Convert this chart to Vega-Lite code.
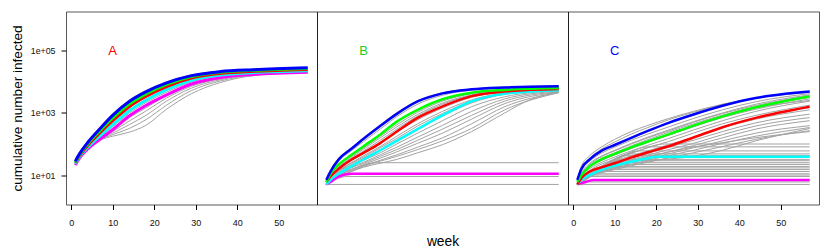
{
"$schema":"https://vega.github.io/schema/vega-lite/v6.json",
"padding":{"left":9,"top":10.5,"right":5,"bottom":0},
"spacing":0,
"bounds":"flush",
"config":{"view":{"stroke":"#000","strokeOpacity":0.65,"strokeWidth":1},"font":"Liberation Sans","axis":{"grid":false,"domain":false,"tickColor":"#000","labelColor":"#111","titleColor":"#000","labelFont":"Liberation Sans","titleFont":"Liberation Sans","titleFontWeight":"normal"}},
"datasets":{
"lab":[{"p":"A","t":"A","w":10,"v":100000},{"p":"B","t":"B","w":10,"v":100000},{"p":"C","t":"C","w":10,"v":100000}],
"d":[
{"p":"A","s":"ga1","w":1,"v":21},{"p":"A","s":"ga1","w":2,"v":35},{"p":"A","s":"ga1","w":4,"v":69},{"p":"A","s":"ga1","w":7,"v":132},{"p":"A","s":"ga1","w":10,"v":178},{"p":"A","s":"ga1","w":14,"v":240},{"p":"A","s":"ga1","w":18,"v":398},{"p":"A","s":"ga1","w":23,"v":1318},{"p":"A","s":"ga1","w":29,"v":4169},{"p":"A","s":"ga1","w":36,"v":9550},{"p":"A","s":"ga1","w":44,"v":15849},{"p":"A","s":"ga1","w":57,"v":19953},
{"p":"A","s":"ga2","w":1,"v":21},{"p":"A","s":"ga2","w":2,"v":35},{"p":"A","s":"ga2","w":4,"v":69},{"p":"A","s":"ga2","w":7,"v":138},{"p":"A","s":"ga2","w":10,"v":200},{"p":"A","s":"ga2","w":14,"v":316},{"p":"A","s":"ga2","w":18,"v":603},{"p":"A","s":"ga2","w":23,"v":1778},{"p":"A","s":"ga2","w":29,"v":5248},{"p":"A","s":"ga2","w":36,"v":10715},{"p":"A","s":"ga2","w":44,"v":16596},{"p":"A","s":"ga2","w":57,"v":20417},
{"p":"A","s":"ga3","w":1,"v":21},{"p":"A","s":"ga3","w":2,"v":36},{"p":"A","s":"ga3","w":4,"v":70},{"p":"A","s":"ga3","w":7,"v":141},{"p":"A","s":"ga3","w":10,"v":224},{"p":"A","s":"ga3","w":14,"v":417},{"p":"A","s":"ga3","w":18,"v":832},{"p":"A","s":"ga3","w":23,"v":2399},{"p":"A","s":"ga3","w":29,"v":6310},{"p":"A","s":"ga3","w":36,"v":11749},{"p":"A","s":"ga3","w":44,"v":16982},{"p":"A","s":"ga3","w":57,"v":20417},
{"p":"A","s":"ga4","w":1,"v":22},{"p":"A","s":"ga4","w":2,"v":36},{"p":"A","s":"ga4","w":4,"v":71},{"p":"A","s":"ga4","w":7,"v":148},{"p":"A","s":"ga4","w":10,"v":251},{"p":"A","s":"ga4","w":14,"v":550},{"p":"A","s":"ga4","w":18,"v":1148},{"p":"A","s":"ga4","w":23,"v":3020},{"p":"A","s":"ga4","w":29,"v":7244},{"p":"A","s":"ga4","w":36,"v":12589},{"p":"A","s":"ga4","w":44,"v":17378},{"p":"A","s":"ga4","w":57,"v":20893},
{"p":"A","s":"ga5","w":1,"v":22},{"p":"A","s":"ga5","w":2,"v":37},{"p":"A","s":"ga5","w":4,"v":72},{"p":"A","s":"ga5","w":7,"v":155},{"p":"A","s":"ga5","w":10,"v":288},{"p":"A","s":"ga5","w":14,"v":708},{"p":"A","s":"ga5","w":18,"v":1445},{"p":"A","s":"ga5","w":23,"v":3631},{"p":"A","s":"ga5","w":29,"v":7943},{"p":"A","s":"ga5","w":36,"v":13183},{"p":"A","s":"ga5","w":44,"v":17783},{"p":"A","s":"ga5","w":57,"v":20893},
{"p":"A","s":"ga6","w":1,"v":30},{"p":"A","s":"ga6","w":2,"v":51},{"p":"A","s":"ga6","w":4,"v":123},{"p":"A","s":"ga6","w":7,"v":355},{"p":"A","s":"ga6","w":10,"v":933},{"p":"A","s":"ga6","w":14,"v":2570},{"p":"A","s":"ga6","w":18,"v":5248},{"p":"A","s":"ga6","w":23,"v":10000},{"p":"A","s":"ga6","w":29,"v":16596},{"p":"A","s":"ga6","w":36,"v":22387},{"p":"A","s":"ga6","w":44,"v":25704},{"p":"A","s":"ga6","w":57,"v":28840},
{"p":"A","s":"ga7","w":1,"v":26},{"p":"A","s":"ga7","w":2,"v":44},{"p":"A","s":"ga7","w":4,"v":98},{"p":"A","s":"ga7","w":7,"v":257},{"p":"A","s":"ga7","w":10,"v":631},{"p":"A","s":"ga7","w":14,"v":1778},{"p":"A","s":"ga7","w":18,"v":3715},{"p":"A","s":"ga7","w":23,"v":7762},{"p":"A","s":"ga7","w":29,"v":14125},{"p":"A","s":"ga7","w":36,"v":19498},{"p":"A","s":"ga7","w":44,"v":22909},{"p":"A","s":"ga7","w":57,"v":26303},
{"p":"A","s":"ga8","w":1,"v":22},{"p":"A","s":"ga8","w":2,"v":37},{"p":"A","s":"ga8","w":4,"v":74},{"p":"A","s":"ga8","w":7,"v":166},{"p":"A","s":"ga8","w":10,"v":355},{"p":"A","s":"ga8","w":14,"v":977},{"p":"A","s":"ga8","w":18,"v":2138},{"p":"A","s":"ga8","w":23,"v":4677},{"p":"A","s":"ga8","w":29,"v":10000},{"p":"A","s":"ga8","w":36,"v":15488},{"p":"A","s":"ga8","w":44,"v":19055},{"p":"A","s":"ga8","w":57,"v":21878},
{"p":"A","s":"magenta","w":1,"v":21},{"p":"A","s":"magenta","w":2,"v":35},{"p":"A","s":"magenta","w":4,"v":69},{"p":"A","s":"magenta","w":7,"v":145},{"p":"A","s":"magenta","w":10,"v":288},{"p":"A","s":"magenta","w":14,"v":794},{"p":"A","s":"magenta","w":18,"v":1738},{"p":"A","s":"magenta","w":23,"v":3802},{"p":"A","s":"magenta","w":29,"v":8511},{"p":"A","s":"magenta","w":36,"v":13804},{"p":"A","s":"magenta","w":44,"v":17378},{"p":"A","s":"magenta","w":57,"v":20417},
{"p":"A","s":"cyan","w":1,"v":23},{"p":"A","s":"cyan","w":2,"v":39},{"p":"A","s":"cyan","w":4,"v":79},{"p":"A","s":"cyan","w":7,"v":186},{"p":"A","s":"cyan","w":10,"v":417},{"p":"A","s":"cyan","w":14,"v":1175},{"p":"A","s":"cyan","w":18,"v":2570},{"p":"A","s":"cyan","w":23,"v":5623},{"p":"A","s":"cyan","w":29,"v":11220},{"p":"A","s":"cyan","w":36,"v":16596},{"p":"A","s":"cyan","w":44,"v":19953},{"p":"A","s":"cyan","w":57,"v":22909},
{"p":"A","s":"red","w":1,"v":25},{"p":"A","s":"red","w":2,"v":42},{"p":"A","s":"red","w":4,"v":91},{"p":"A","s":"red","w":7,"v":234},{"p":"A","s":"red","w":10,"v":562},{"p":"A","s":"red","w":14,"v":1585},{"p":"A","s":"red","w":18,"v":3388},{"p":"A","s":"red","w":23,"v":7079},{"p":"A","s":"red","w":29,"v":13183},{"p":"A","s":"red","w":36,"v":18621},{"p":"A","s":"red","w":44,"v":21878},{"p":"A","s":"red","w":57,"v":25119},
{"p":"A","s":"green","w":1,"v":26},{"p":"A","s":"green","w":2,"v":45},{"p":"A","s":"green","w":4,"v":102},{"p":"A","s":"green","w":7,"v":275},{"p":"A","s":"green","w":10,"v":692},{"p":"A","s":"green","w":14,"v":1950},{"p":"A","s":"green","w":18,"v":4074},{"p":"A","s":"green","w":23,"v":8318},{"p":"A","s":"green","w":29,"v":14791},{"p":"A","s":"green","w":36,"v":20417},{"p":"A","s":"green","w":44,"v":23442},{"p":"A","s":"green","w":57,"v":26915},
{"p":"A","s":"blue","w":1,"v":28},{"p":"A","s":"blue","w":2,"v":48},{"p":"A","s":"blue","w":4,"v":112},{"p":"A","s":"blue","w":7,"v":316},{"p":"A","s":"blue","w":10,"v":832},{"p":"A","s":"blue","w":14,"v":2344},{"p":"A","s":"blue","w":18,"v":4786},{"p":"A","s":"blue","w":23,"v":9333},{"p":"A","s":"blue","w":29,"v":15849},{"p":"A","s":"blue","w":36,"v":21380},{"p":"A","s":"blue","w":44,"v":24547},{"p":"A","s":"blue","w":57,"v":28184},

{"p":"B","s":"bf1","w":1,"v":5},{"p":"B","s":"bf1","w":57,"v":5},
{"p":"B","s":"bf2","w":1,"v":5},{"p":"B","s":"bf2","w":3,"v":7},{"p":"B","s":"bf2","w":6,"v":9},{"p":"B","s":"bf2","w":57,"v":9},
{"p":"B","s":"bf3","w":1,"v":5},{"p":"B","s":"bf3","w":3,"v":8},{"p":"B","s":"bf3","w":6,"v":11},{"p":"B","s":"bf3","w":57,"v":11},
{"p":"B","s":"bf4","w":1,"v":5},{"p":"B","s":"bf4","w":4,"v":10},{"p":"B","s":"bf4","w":8,"v":17},{"p":"B","s":"bf4","w":13,"v":25},{"p":"B","s":"bf4","w":57,"v":25},
{"p":"B","s":"b1","w":1,"v":7},{"p":"B","s":"b1","w":2,"v":14},{"p":"B","s":"b1","w":4,"v":35},{"p":"B","s":"b1","w":7,"v":76},{"p":"B","s":"b1","w":10,"v":162},{"p":"B","s":"b1","w":14,"v":417},{"p":"B","s":"b1","w":18,"v":1023},{"p":"B","s":"b1","w":23,"v":2512},{"p":"B","s":"b1","w":29,"v":4467},{"p":"B","s":"b1","w":36,"v":5888},{"p":"B","s":"b1","w":44,"v":6761},{"p":"B","s":"b1","w":57,"v":7413},
{"p":"B","s":"b2","w":1,"v":6},{"p":"B","s":"b2","w":2,"v":12},{"p":"B","s":"b2","w":4,"v":28},{"p":"B","s":"b2","w":7,"v":60},{"p":"B","s":"b2","w":10,"v":120},{"p":"B","s":"b2","w":14,"v":302},{"p":"B","s":"b2","w":18,"v":759},{"p":"B","s":"b2","w":23,"v":1905},{"p":"B","s":"b2","w":29,"v":3715},{"p":"B","s":"b2","w":36,"v":5370},{"p":"B","s":"b2","w":44,"v":6310},{"p":"B","s":"b2","w":57,"v":7079},
{"p":"B","s":"b3","w":1,"v":6},{"p":"B","s":"b3","w":2,"v":10},{"p":"B","s":"b3","w":4,"v":21},{"p":"B","s":"b3","w":7,"v":40},{"p":"B","s":"b3","w":10,"v":76},{"p":"B","s":"b3","w":14,"v":178},{"p":"B","s":"b3","w":18,"v":417},{"p":"B","s":"b3","w":23,"v":1047},{"p":"B","s":"b3","w":29,"v":2399},{"p":"B","s":"b3","w":36,"v":4169},{"p":"B","s":"b3","w":44,"v":5495},{"p":"B","s":"b3","w":57,"v":6457},
{"p":"B","s":"b4","w":1,"v":5},{"p":"B","s":"b4","w":2,"v":9},{"p":"B","s":"b4","w":4,"v":18},{"p":"B","s":"b4","w":7,"v":33},{"p":"B","s":"b4","w":10,"v":60},{"p":"B","s":"b4","w":14,"v":132},{"p":"B","s":"b4","w":18,"v":302},{"p":"B","s":"b4","w":23,"v":794},{"p":"B","s":"b4","w":29,"v":1905},{"p":"B","s":"b4","w":36,"v":3631},{"p":"B","s":"b4","w":44,"v":5129},{"p":"B","s":"b4","w":57,"v":6310},
{"p":"B","s":"b5","w":1,"v":5},{"p":"B","s":"b5","w":2,"v":8},{"p":"B","s":"b5","w":4,"v":14},{"p":"B","s":"b5","w":7,"v":25},{"p":"B","s":"b5","w":10,"v":42},{"p":"B","s":"b5","w":14,"v":83},{"p":"B","s":"b5","w":18,"v":178},{"p":"B","s":"b5","w":23,"v":447},{"p":"B","s":"b5","w":29,"v":1122},{"p":"B","s":"b5","w":36,"v":2630},{"p":"B","s":"b5","w":44,"v":4365},{"p":"B","s":"b5","w":57,"v":5754},
{"p":"B","s":"b6","w":1,"v":5},{"p":"B","s":"b6","w":2,"v":8},{"p":"B","s":"b6","w":4,"v":13},{"p":"B","s":"b6","w":7,"v":22},{"p":"B","s":"b6","w":10,"v":35},{"p":"B","s":"b6","w":14,"v":66},{"p":"B","s":"b6","w":18,"v":132},{"p":"B","s":"b6","w":23,"v":316},{"p":"B","s":"b6","w":29,"v":794},{"p":"B","s":"b6","w":36,"v":2089},{"p":"B","s":"b6","w":44,"v":3981},{"p":"B","s":"b6","w":57,"v":5495},
{"p":"B","s":"b7","w":1,"v":5},{"p":"B","s":"b7","w":2,"v":7},{"p":"B","s":"b7","w":4,"v":12},{"p":"B","s":"b7","w":7,"v":20},{"p":"B","s":"b7","w":10,"v":30},{"p":"B","s":"b7","w":14,"v":52},{"p":"B","s":"b7","w":18,"v":100},{"p":"B","s":"b7","w":23,"v":224},{"p":"B","s":"b7","w":29,"v":562},{"p":"B","s":"b7","w":36,"v":1585},{"p":"B","s":"b7","w":44,"v":3311},{"p":"B","s":"b7","w":57,"v":5248},
{"p":"B","s":"b8","w":1,"v":5},{"p":"B","s":"b8","w":2,"v":7},{"p":"B","s":"b8","w":4,"v":11},{"p":"B","s":"b8","w":7,"v":18},{"p":"B","s":"b8","w":10,"v":26},{"p":"B","s":"b8","w":14,"v":45},{"p":"B","s":"b8","w":18,"v":79},{"p":"B","s":"b8","w":23,"v":166},{"p":"B","s":"b8","w":29,"v":398},{"p":"B","s":"b8","w":36,"v":1122},{"p":"B","s":"b8","w":44,"v":2818},{"p":"B","s":"b8","w":57,"v":5012},
{"p":"B","s":"b9","w":1,"v":5},{"p":"B","s":"b9","w":2,"v":7},{"p":"B","s":"b9","w":4,"v":10},{"p":"B","s":"b9","w":7,"v":17},{"p":"B","s":"b9","w":10,"v":24},{"p":"B","s":"b9","w":14,"v":40},{"p":"B","s":"b9","w":18,"v":66},{"p":"B","s":"b9","w":23,"v":132},{"p":"B","s":"b9","w":29,"v":302},{"p":"B","s":"b9","w":36,"v":832},{"p":"B","s":"b9","w":44,"v":2399},{"p":"B","s":"b9","w":57,"v":4786},
{"p":"B","s":"b10","w":1,"v":5},{"p":"B","s":"b10","w":2,"v":7},{"p":"B","s":"b10","w":4,"v":10},{"p":"B","s":"b10","w":7,"v":15},{"p":"B","s":"b10","w":10,"v":22},{"p":"B","s":"b10","w":14,"v":35},{"p":"B","s":"b10","w":18,"v":56},{"p":"B","s":"b10","w":23,"v":105},{"p":"B","s":"b10","w":29,"v":224},{"p":"B","s":"b10","w":36,"v":631},{"p":"B","s":"b10","w":44,"v":1995},{"p":"B","s":"b10","w":57,"v":4677},
{"p":"B","s":"b11","w":1,"v":5},{"p":"B","s":"b11","w":2,"v":6},{"p":"B","s":"b11","w":4,"v":10},{"p":"B","s":"b11","w":7,"v":14},{"p":"B","s":"b11","w":10,"v":20},{"p":"B","s":"b11","w":14,"v":30},{"p":"B","s":"b11","w":18,"v":45},{"p":"B","s":"b11","w":23,"v":79},{"p":"B","s":"b11","w":29,"v":158},{"p":"B","s":"b11","w":36,"v":447},{"p":"B","s":"b11","w":44,"v":1585},{"p":"B","s":"b11","w":57,"v":4571},
{"p":"B","s":"b12","w":1,"v":5},{"p":"B","s":"b12","w":2,"v":6},{"p":"B","s":"b12","w":4,"v":9},{"p":"B","s":"b12","w":7,"v":13},{"p":"B","s":"b12","w":10,"v":19},{"p":"B","s":"b12","w":14,"v":28},{"p":"B","s":"b12","w":18,"v":40},{"p":"B","s":"b12","w":23,"v":66},{"p":"B","s":"b12","w":29,"v":126},{"p":"B","s":"b12","w":36,"v":316},{"p":"B","s":"b12","w":44,"v":1259},{"p":"B","s":"b12","w":57,"v":4467},
{"p":"B","s":"b13","w":1,"v":5},{"p":"B","s":"b13","w":2,"v":6},{"p":"B","s":"b13","w":4,"v":9},{"p":"B","s":"b13","w":7,"v":13},{"p":"B","s":"b13","w":10,"v":18},{"p":"B","s":"b13","w":14,"v":24},{"p":"B","s":"b13","w":18,"v":32},{"p":"B","s":"b13","w":23,"v":52},{"p":"B","s":"b13","w":29,"v":95},{"p":"B","s":"b13","w":36,"v":251},{"p":"B","s":"b13","w":44,"v":1000},{"p":"B","s":"b13","w":50,"v":2630},{"p":"B","s":"b13","w":57,"v":4571},
{"p":"B","s":"b14","w":1,"v":5},{"p":"B","s":"b14","w":2,"v":8},{"p":"B","s":"b14","w":4,"v":16},{"p":"B","s":"b14","w":7,"v":29},{"p":"B","s":"b14","w":10,"v":50},{"p":"B","s":"b14","w":14,"v":105},{"p":"B","s":"b14","w":18,"v":240},{"p":"B","s":"b14","w":23,"v":603},{"p":"B","s":"b14","w":29,"v":1445},{"p":"B","s":"b14","w":36,"v":3162},{"p":"B","s":"b14","w":44,"v":4786},{"p":"B","s":"b14","w":57,"v":6026},
{"p":"B","s":"b15","w":1,"v":5},{"p":"B","s":"b15","w":2,"v":10},{"p":"B","s":"b15","w":4,"v":19},{"p":"B","s":"b15","w":7,"v":36},{"p":"B","s":"b15","w":10,"v":69},{"p":"B","s":"b15","w":14,"v":158},{"p":"B","s":"b15","w":18,"v":355},{"p":"B","s":"b15","w":23,"v":891},{"p":"B","s":"b15","w":29,"v":2089},{"p":"B","s":"b15","w":36,"v":3802},{"p":"B","s":"b15","w":44,"v":5248},{"p":"B","s":"b15","w":57,"v":6310},
{"p":"B","s":"b16","w":1,"v":5},{"p":"B","s":"b16","w":2,"v":7},{"p":"B","s":"b16","w":4,"v":13},{"p":"B","s":"b16","w":7,"v":24},{"p":"B","s":"b16","w":10,"v":38},{"p":"B","s":"b16","w":14,"v":76},{"p":"B","s":"b16","w":18,"v":151},{"p":"B","s":"b16","w":23,"v":380},{"p":"B","s":"b16","w":29,"v":955},{"p":"B","s":"b16","w":36,"v":2399},{"p":"B","s":"b16","w":44,"v":4169},{"p":"B","s":"b16","w":57,"v":5623},
{"p":"B","s":"magenta","w":1,"v":5},{"p":"B","s":"magenta","w":2,"v":6},{"p":"B","s":"magenta","w":4,"v":9},{"p":"B","s":"magenta","w":7,"v":11},{"p":"B","s":"magenta","w":57,"v":11},
{"p":"B","s":"cyan","w":1,"v":5},{"p":"B","s":"cyan","w":2,"v":7},{"p":"B","s":"cyan","w":4,"v":11},{"p":"B","s":"cyan","w":7,"v":19},{"p":"B","s":"cyan","w":10,"v":32},{"p":"B","s":"cyan","w":14,"v":63},{"p":"B","s":"cyan","w":18,"v":126},{"p":"B","s":"cyan","w":23,"v":302},{"p":"B","s":"cyan","w":29,"v":832},{"p":"B","s":"cyan","w":36,"v":2344},{"p":"B","s":"cyan","w":44,"v":4169},{"p":"B","s":"cyan","w":57,"v":5370},
{"p":"B","s":"red","w":1,"v":6},{"p":"B","s":"red","w":2,"v":9},{"p":"B","s":"red","w":4,"v":16},{"p":"B","s":"red","w":7,"v":31},{"p":"B","s":"red","w":10,"v":52},{"p":"B","s":"red","w":14,"v":107},{"p":"B","s":"red","w":18,"v":251},{"p":"B","s":"red","w":23,"v":692},{"p":"B","s":"red","w":29,"v":1622},{"p":"B","s":"red","w":36,"v":3467},{"p":"B","s":"red","w":44,"v":4898},{"p":"B","s":"red","w":57,"v":5888},
{"p":"B","s":"green","w":1,"v":6},{"p":"B","s":"green","w":2,"v":11},{"p":"B","s":"green","w":4,"v":22},{"p":"B","s":"green","w":7,"v":44},{"p":"B","s":"green","w":10,"v":85},{"p":"B","s":"green","w":14,"v":204},{"p":"B","s":"green","w":18,"v":525},{"p":"B","s":"green","w":23,"v":1259},{"p":"B","s":"green","w":29,"v":2754},{"p":"B","s":"green","w":36,"v":4467},{"p":"B","s":"green","w":44,"v":5495},{"p":"B","s":"green","w":57,"v":6310},
{"p":"B","s":"blue","w":1,"v":7},{"p":"B","s":"blue","w":2,"v":13},{"p":"B","s":"blue","w":4,"v":32},{"p":"B","s":"blue","w":7,"v":69},{"p":"B","s":"blue","w":10,"v":148},{"p":"B","s":"blue","w":14,"v":380},{"p":"B","s":"blue","w":18,"v":933},{"p":"B","s":"blue","w":23,"v":2344},{"p":"B","s":"blue","w":29,"v":4266},{"p":"B","s":"blue","w":36,"v":5754},{"p":"B","s":"blue","w":44,"v":6607},{"p":"B","s":"blue","w":57,"v":7244},

{"p":"C","s":"cf1","w":1,"v":5},{"p":"C","s":"cf1","w":4,"v":11},{"p":"C","s":"cf1","w":10,"v":32},{"p":"C","s":"cf1","w":16,"v":63},{"p":"C","s":"cf1","w":22,"v":100},{"p":"C","s":"cf1","w":57,"v":100},
{"p":"C","s":"cf2","w":1,"v":5},{"p":"C","s":"cf2","w":4,"v":10},{"p":"C","s":"cf2","w":10,"v":28},{"p":"C","s":"cf2","w":18,"v":81},{"p":"C","s":"cf2","w":57,"v":81},
{"p":"C","s":"cf3","w":1,"v":5},{"p":"C","s":"cf3","w":4,"v":10},{"p":"C","s":"cf3","w":9,"v":26},{"p":"C","s":"cf3","w":16,"v":60},{"p":"C","s":"cf3","w":57,"v":60},
{"p":"C","s":"cf4","w":1,"v":5},{"p":"C","s":"cf4","w":4,"v":10},{"p":"C","s":"cf4","w":8,"v":24},{"p":"C","s":"cf4","w":14,"v":48},{"p":"C","s":"cf4","w":57,"v":48},
{"p":"C","s":"cf5","w":1,"v":5},{"p":"C","s":"cf5","w":4,"v":9},{"p":"C","s":"cf5","w":8,"v":19},{"p":"C","s":"cf5","w":12,"v":32},{"p":"C","s":"cf5","w":57,"v":32},
{"p":"C","s":"cf6","w":1,"v":5},{"p":"C","s":"cf6","w":4,"v":9},{"p":"C","s":"cf6","w":7,"v":17},{"p":"C","s":"cf6","w":11,"v":29},{"p":"C","s":"cf6","w":57,"v":29},
{"p":"C","s":"cf7","w":1,"v":5},{"p":"C","s":"cf7","w":3,"v":8},{"p":"C","s":"cf7","w":6,"v":15},{"p":"C","s":"cf7","w":10,"v":25},{"p":"C","s":"cf7","w":57,"v":25},
{"p":"C","s":"cf8","w":1,"v":5},{"p":"C","s":"cf8","w":3,"v":8},{"p":"C","s":"cf8","w":6,"v":14},{"p":"C","s":"cf8","w":9,"v":22},{"p":"C","s":"cf8","w":57,"v":22},
{"p":"C","s":"cf9","w":1,"v":5},{"p":"C","s":"cf9","w":3,"v":8},{"p":"C","s":"cf9","w":5,"v":12},{"p":"C","s":"cf9","w":8,"v":19},{"p":"C","s":"cf9","w":57,"v":19},
{"p":"C","s":"cf10","w":1,"v":5},{"p":"C","s":"cf10","w":3,"v":7},{"p":"C","s":"cf10","w":5,"v":11},{"p":"C","s":"cf10","w":7,"v":15},{"p":"C","s":"cf10","w":57,"v":15},
{"p":"C","s":"cf11","w":1,"v":5},{"p":"C","s":"cf11","w":3,"v":8},{"p":"C","s":"cf11","w":6,"v":13},{"p":"C","s":"cf11","w":57,"v":13},
{"p":"C","s":"cf12","w":1,"v":5},{"p":"C","s":"cf12","w":3,"v":7},{"p":"C","s":"cf12","w":6,"v":11},{"p":"C","s":"cf12","w":57,"v":11},
{"p":"C","s":"cf13","w":1,"v":5},{"p":"C","s":"cf13","w":3,"v":7},{"p":"C","s":"cf13","w":5,"v":10},{"p":"C","s":"cf13","w":57,"v":10},
{"p":"C","s":"cf14","w":1,"v":5},{"p":"C","s":"cf14","w":2,"v":6},{"p":"C","s":"cf14","w":4,"v":9},{"p":"C","s":"cf14","w":57,"v":9},
{"p":"C","s":"cf15","w":1,"v":5},{"p":"C","s":"cf15","w":3,"v":6},{"p":"C","s":"cf15","w":57,"v":6},
{"p":"C","s":"cf16","w":1,"v":5},{"p":"C","s":"cf16","w":57,"v":5},
{"p":"C","s":"cf17","w":1,"v":5},{"p":"C","s":"cf17","w":4,"v":10},{"p":"C","s":"cf17","w":8,"v":22},{"p":"C","s":"cf17","w":13,"v":42},{"p":"C","s":"cf17","w":57,"v":42},
{"p":"C","s":"cf18","w":1,"v":5},{"p":"C","s":"cf18","w":3,"v":8},{"p":"C","s":"cf18","w":6,"v":12},{"p":"C","s":"cf18","w":8,"v":17},{"p":"C","s":"cf18","w":57,"v":17},
{"p":"C","s":"c1","w":1,"v":7},{"p":"C","s":"c1","w":2,"v":20},{"p":"C","s":"c1","w":4,"v":42},{"p":"C","s":"c1","w":7,"v":83},{"p":"C","s":"c1","w":10,"v":141},{"p":"C","s":"c1","w":14,"v":251},{"p":"C","s":"c1","w":18,"v":398},{"p":"C","s":"c1","w":23,"v":661},{"p":"C","s":"c1","w":29,"v":1122},{"p":"C","s":"c1","w":36,"v":1905},{"p":"C","s":"c1","w":44,"v":3020},{"p":"C","s":"c1","w":57,"v":4786},
{"p":"C","s":"c2","w":1,"v":7},{"p":"C","s":"c2","w":2,"v":17},{"p":"C","s":"c2","w":4,"v":35},{"p":"C","s":"c2","w":7,"v":71},{"p":"C","s":"c2","w":10,"v":115},{"p":"C","s":"c2","w":14,"v":209},{"p":"C","s":"c2","w":18,"v":339},{"p":"C","s":"c2","w":23,"v":603},{"p":"C","s":"c2","w":29,"v":1047},{"p":"C","s":"c2","w":36,"v":1862},{"p":"C","s":"c2","w":44,"v":2951},{"p":"C","s":"c2","w":57,"v":4571},
{"p":"C","s":"c3","w":1,"v":6},{"p":"C","s":"c3","w":2,"v":14},{"p":"C","s":"c3","w":4,"v":28},{"p":"C","s":"c3","w":7,"v":52},{"p":"C","s":"c3","w":10,"v":79},{"p":"C","s":"c3","w":14,"v":132},{"p":"C","s":"c3","w":18,"v":209},{"p":"C","s":"c3","w":23,"v":355},{"p":"C","s":"c3","w":29,"v":661},{"p":"C","s":"c3","w":36,"v":1259},{"p":"C","s":"c3","w":44,"v":2291},{"p":"C","s":"c3","w":57,"v":4169},
{"p":"C","s":"c4","w":1,"v":6},{"p":"C","s":"c4","w":2,"v":12},{"p":"C","s":"c4","w":4,"v":24},{"p":"C","s":"c4","w":7,"v":42},{"p":"C","s":"c4","w":10,"v":63},{"p":"C","s":"c4","w":14,"v":105},{"p":"C","s":"c4","w":18,"v":166},{"p":"C","s":"c4","w":23,"v":282},{"p":"C","s":"c4","w":29,"v":525},{"p":"C","s":"c4","w":36,"v":1000},{"p":"C","s":"c4","w":44,"v":1905},{"p":"C","s":"c4","w":57,"v":3802},
{"p":"C","s":"c5","w":1,"v":6},{"p":"C","s":"c5","w":2,"v":10},{"p":"C","s":"c5","w":4,"v":20},{"p":"C","s":"c5","w":7,"v":35},{"p":"C","s":"c5","w":10,"v":52},{"p":"C","s":"c5","w":14,"v":87},{"p":"C","s":"c5","w":18,"v":138},{"p":"C","s":"c5","w":23,"v":240},{"p":"C","s":"c5","w":29,"v":447},{"p":"C","s":"c5","w":36,"v":851},{"p":"C","s":"c5","w":44,"v":1585},{"p":"C","s":"c5","w":57,"v":3162},
{"p":"C","s":"c6","w":1,"v":6},{"p":"C","s":"c6","w":2,"v":10},{"p":"C","s":"c6","w":4,"v":18},{"p":"C","s":"c6","w":7,"v":30},{"p":"C","s":"c6","w":10,"v":44},{"p":"C","s":"c6","w":14,"v":71},{"p":"C","s":"c6","w":18,"v":112},{"p":"C","s":"c6","w":23,"v":191},{"p":"C","s":"c6","w":29,"v":355},{"p":"C","s":"c6","w":36,"v":708},{"p":"C","s":"c6","w":44,"v":1318},{"p":"C","s":"c6","w":57,"v":2818},
{"p":"C","s":"c7","w":1,"v":5},{"p":"C","s":"c7","w":2,"v":9},{"p":"C","s":"c7","w":4,"v":16},{"p":"C","s":"c7","w":7,"v":26},{"p":"C","s":"c7","w":10,"v":38},{"p":"C","s":"c7","w":14,"v":60},{"p":"C","s":"c7","w":18,"v":91},{"p":"C","s":"c7","w":23,"v":151},{"p":"C","s":"c7","w":29,"v":282},{"p":"C","s":"c7","w":36,"v":562},{"p":"C","s":"c7","w":44,"v":1122},{"p":"C","s":"c7","w":57,"v":2399},
{"p":"C","s":"c8","w":1,"v":5},{"p":"C","s":"c8","w":2,"v":8},{"p":"C","s":"c8","w":4,"v":14},{"p":"C","s":"c8","w":7,"v":23},{"p":"C","s":"c8","w":10,"v":32},{"p":"C","s":"c8","w":14,"v":50},{"p":"C","s":"c8","w":18,"v":76},{"p":"C","s":"c8","w":23,"v":120},{"p":"C","s":"c8","w":29,"v":224},{"p":"C","s":"c8","w":36,"v":447},{"p":"C","s":"c8","w":44,"v":832},{"p":"C","s":"c8","w":57,"v":1778},
{"p":"C","s":"c9","w":1,"v":5},{"p":"C","s":"c9","w":2,"v":8},{"p":"C","s":"c9","w":4,"v":13},{"p":"C","s":"c9","w":7,"v":20},{"p":"C","s":"c9","w":10,"v":28},{"p":"C","s":"c9","w":14,"v":42},{"p":"C","s":"c9","w":18,"v":60},{"p":"C","s":"c9","w":23,"v":95},{"p":"C","s":"c9","w":29,"v":166},{"p":"C","s":"c9","w":36,"v":331},{"p":"C","s":"c9","w":44,"v":631},{"p":"C","s":"c9","w":57,"v":1259},
{"p":"C","s":"c10","w":1,"v":5},{"p":"C","s":"c10","w":2,"v":8},{"p":"C","s":"c10","w":4,"v":12},{"p":"C","s":"c10","w":7,"v":18},{"p":"C","s":"c10","w":10,"v":24},{"p":"C","s":"c10","w":14,"v":35},{"p":"C","s":"c10","w":18,"v":50},{"p":"C","s":"c10","w":23,"v":79},{"p":"C","s":"c10","w":29,"v":132},{"p":"C","s":"c10","w":36,"v":251},{"p":"C","s":"c10","w":44,"v":479},{"p":"C","s":"c10","w":57,"v":912},
{"p":"C","s":"c11","w":1,"v":5},{"p":"C","s":"c11","w":2,"v":7},{"p":"C","s":"c11","w":4,"v":11},{"p":"C","s":"c11","w":7,"v":17},{"p":"C","s":"c11","w":10,"v":22},{"p":"C","s":"c11","w":14,"v":32},{"p":"C","s":"c11","w":18,"v":44},{"p":"C","s":"c11","w":23,"v":66},{"p":"C","s":"c11","w":29,"v":105},{"p":"C","s":"c11","w":36,"v":200},{"p":"C","s":"c11","w":44,"v":380},{"p":"C","s":"c11","w":57,"v":708},
{"p":"C","s":"c12","w":1,"v":5},{"p":"C","s":"c12","w":2,"v":7},{"p":"C","s":"c12","w":4,"v":10},{"p":"C","s":"c12","w":7,"v":15},{"p":"C","s":"c12","w":10,"v":20},{"p":"C","s":"c12","w":14,"v":28},{"p":"C","s":"c12","w":18,"v":38},{"p":"C","s":"c12","w":23,"v":55},{"p":"C","s":"c12","w":29,"v":89},{"p":"C","s":"c12","w":36,"v":158},{"p":"C","s":"c12","w":44,"v":302},{"p":"C","s":"c12","w":57,"v":562},
{"p":"C","s":"c13","w":1,"v":5},{"p":"C","s":"c13","w":2,"v":7},{"p":"C","s":"c13","w":4,"v":10},{"p":"C","s":"c13","w":7,"v":14},{"p":"C","s":"c13","w":10,"v":18},{"p":"C","s":"c13","w":14,"v":25},{"p":"C","s":"c13","w":18,"v":33},{"p":"C","s":"c13","w":23,"v":48},{"p":"C","s":"c13","w":29,"v":76},{"p":"C","s":"c13","w":36,"v":126},{"p":"C","s":"c13","w":44,"v":224},{"p":"C","s":"c13","w":57,"v":389},
{"p":"C","s":"c14","w":1,"v":5},{"p":"C","s":"c14","w":2,"v":7},{"p":"C","s":"c14","w":4,"v":10},{"p":"C","s":"c14","w":7,"v":13},{"p":"C","s":"c14","w":10,"v":17},{"p":"C","s":"c14","w":14,"v":22},{"p":"C","s":"c14","w":18,"v":30},{"p":"C","s":"c14","w":23,"v":42},{"p":"C","s":"c14","w":29,"v":63},{"p":"C","s":"c14","w":36,"v":105},{"p":"C","s":"c14","w":44,"v":178},{"p":"C","s":"c14","w":57,"v":339},
{"p":"C","s":"c15","w":1,"v":5},{"p":"C","s":"c15","w":2,"v":6},{"p":"C","s":"c15","w":4,"v":9},{"p":"C","s":"c15","w":7,"v":12},{"p":"C","s":"c15","w":10,"v":15},{"p":"C","s":"c15","w":14,"v":20},{"p":"C","s":"c15","w":18,"v":26},{"p":"C","s":"c15","w":23,"v":36},{"p":"C","s":"c15","w":29,"v":52},{"p":"C","s":"c15","w":36,"v":83},{"p":"C","s":"c15","w":44,"v":141},{"p":"C","s":"c15","w":57,"v":269},
{"p":"C","s":"c16","w":1,"v":6},{"p":"C","s":"c16","w":2,"v":11},{"p":"C","s":"c16","w":4,"v":22},{"p":"C","s":"c16","w":7,"v":40},{"p":"C","s":"c16","w":10,"v":60},{"p":"C","s":"c16","w":14,"v":100},{"p":"C","s":"c16","w":18,"v":158},{"p":"C","s":"c16","w":23,"v":263},{"p":"C","s":"c16","w":29,"v":501},{"p":"C","s":"c16","w":36,"v":955},{"p":"C","s":"c16","w":44,"v":1738},{"p":"C","s":"c16","w":57,"v":3548},
{"p":"C","s":"c17","w":1,"v":6},{"p":"C","s":"c17","w":2,"v":10},{"p":"C","s":"c17","w":4,"v":19},{"p":"C","s":"c17","w":7,"v":32},{"p":"C","s":"c17","w":10,"v":46},{"p":"C","s":"c17","w":14,"v":76},{"p":"C","s":"c17","w":18,"v":120},{"p":"C","s":"c17","w":23,"v":209},{"p":"C","s":"c17","w":29,"v":398},{"p":"C","s":"c17","w":36,"v":794},{"p":"C","s":"c17","w":44,"v":1445},{"p":"C","s":"c17","w":57,"v":2512},
{"p":"C","s":"c18","w":1,"v":5},{"p":"C","s":"c18","w":4,"v":9},{"p":"C","s":"c18","w":10,"v":16},{"p":"C","s":"c18","w":18,"v":28},{"p":"C","s":"c18","w":29,"v":40},{"p":"C","s":"c18","w":36,"v":63},{"p":"C","s":"c18","w":44,"v":126},{"p":"C","s":"c18","w":57,"v":316},
{"p":"C","s":"c19","w":1,"v":5},{"p":"C","s":"c19","w":4,"v":10},{"p":"C","s":"c19","w":10,"v":20},{"p":"C","s":"c19","w":18,"v":40},{"p":"C","s":"c19","w":23,"v":55},{"p":"C","s":"c19","w":29,"v":80},{"p":"C","s":"c19","w":36,"v":110},{"p":"C","s":"c19","w":44,"v":160},{"p":"C","s":"c19","w":57,"v":251},
{"p":"C","s":"magenta","w":1,"v":5},{"p":"C","s":"magenta","w":3,"v":6},{"p":"C","s":"magenta","w":5,"v":7},{"p":"C","s":"magenta","w":57,"v":7},
{"p":"C","s":"cyan","w":1,"v":5},{"p":"C","s":"cyan","w":2,"v":7},{"p":"C","s":"cyan","w":4,"v":10},{"p":"C","s":"cyan","w":7,"v":15},{"p":"C","s":"cyan","w":10,"v":20},{"p":"C","s":"cyan","w":14,"v":27},{"p":"C","s":"cyan","w":18,"v":35},{"p":"C","s":"cyan","w":20,"v":39},{"p":"C","s":"cyan","w":57,"v":39},
{"p":"C","s":"red","w":1,"v":5},{"p":"C","s":"red","w":2,"v":8},{"p":"C","s":"red","w":4,"v":13},{"p":"C","s":"red","w":7,"v":18},{"p":"C","s":"red","w":10,"v":24},{"p":"C","s":"red","w":14,"v":37},{"p":"C","s":"red","w":18,"v":54},{"p":"C","s":"red","w":23,"v":85},{"p":"C","s":"red","w":29,"v":162},{"p":"C","s":"red","w":36,"v":347},{"p":"C","s":"red","w":44,"v":692},{"p":"C","s":"red","w":57,"v":1585},
{"p":"C","s":"green","w":1,"v":6},{"p":"C","s":"green","w":2,"v":10},{"p":"C","s":"green","w":4,"v":19},{"p":"C","s":"green","w":7,"v":33},{"p":"C","s":"green","w":10,"v":48},{"p":"C","s":"green","w":14,"v":78},{"p":"C","s":"green","w":18,"v":120},{"p":"C","s":"green","w":23,"v":204},{"p":"C","s":"green","w":29,"v":389},{"p":"C","s":"green","w":36,"v":776},{"p":"C","s":"green","w":44,"v":1514},{"p":"C","s":"green","w":57,"v":3388},
{"p":"C","s":"blue","w":1,"v":7},{"p":"C","s":"blue","w":2,"v":16},{"p":"C","s":"blue","w":4,"v":32},{"p":"C","s":"blue","w":7,"v":62},{"p":"C","s":"blue","w":10,"v":93},{"p":"C","s":"blue","w":14,"v":158},{"p":"C","s":"blue","w":18,"v":263},{"p":"C","s":"blue","w":23,"v":479},{"p":"C","s":"blue","w":29,"v":891},{"p":"C","s":"blue","w":36,"v":1698},{"p":"C","s":"blue","w":44,"v":3020},{"p":"C","s":"blue","w":57,"v":4898}
]},
"hconcat":[
{"width":251,"height":193,
 "encoding":{
  "x":{"field":"w","type":"quantitative","scale":{"domain":[-1.24,59.24],"nice":false,"zero":false},"axis":{"values":[0,10,20,30,40,50],"title":null,"labelFontSize":9,"tickSize":5,"labelPadding":9}},
  "y":{"field":"v","type":"quantitative","scale":{"type":"log","domain":[1.13,1837000],"nice":false},"axis":{"values":[10,1000,100000],"labelExpr":"'1e+0' + round(log(datum.value)/LN10)","title":"cumulative number infected","titleFontSize":13.6,"labelFontSize":8.8,"tickSize":5,"labelPadding":6,"minExtent":36,"maxExtent":36,"titlePadding":6}}},
 "layer":[
  {"data":{"name":"d"},"transform":[{"filter":"datum.p=='A' && indexof(['blue','green','red','cyan','magenta'], datum.s) < 0"}],"mark":{"type":"line","interpolate":"monotone","color":"#a3a3a3","strokeWidth":1},"encoding":{"detail":{"field":"s"}}},
  {"data":{"name":"d"},"transform":[{"filter":"datum.p=='A' && indexof(['blue','green','red','cyan','magenta'], datum.s) >= 0"}],"mark":{"type":"line","interpolate":"monotone","strokeWidth":3},"encoding":{"color":{"field":"s","type":"nominal","scale":{"domain":["magenta","cyan","red","green","blue"],"range":["#FF00FF","#00FFFF","#FF0000","#00FF00","#0000FF"]},"legend":null}}},
  {"data":{"name":"lab"},"transform":[{"filter":"datum.p=='A'"}],"mark":{"type":"text","fontSize":13,"color":"#FF0000","baseline":"middle"},"encoding":{"text":{"field":"t"}}}
 ]},
{"width":251,"height":193,
 "encoding":{
  "x":{"field":"w","type":"quantitative","scale":{"domain":[-1.24,59.24],"nice":false,"zero":false},"axis":{"title":"week","labels":false,"ticks":false,"domain":false,"titleFontSize":13.8,"titleBaseline":"alphabetic","titlePadding":41}},
  "y":{"field":"v","type":"quantitative","scale":{"type":"log","domain":[1.13,1837000],"nice":false},"axis":null}},
 "layer":[
  {"data":{"name":"d"},"transform":[{"filter":"datum.p=='B' && indexof(['blue','green','red','cyan','magenta'], datum.s) < 0"}],"mark":{"type":"line","interpolate":"monotone","color":"#a3a3a3","strokeWidth":1},"encoding":{"detail":{"field":"s"}}},
  {"data":{"name":"d"},"transform":[{"filter":"datum.p=='B' && indexof(['blue','green','red','cyan','magenta'], datum.s) >= 0"}],"mark":{"type":"line","interpolate":"monotone","strokeWidth":2.5},"encoding":{"color":{"field":"s","type":"nominal","scale":{"domain":["magenta","cyan","red","green","blue"],"range":["#FF00FF","#00FFFF","#FF0000","#00FF00","#0000FF"]},"legend":null}}},
  {"data":{"name":"lab"},"transform":[{"filter":"datum.p=='B'"}],"mark":{"type":"text","fontSize":13,"color":"#22CC22","baseline":"middle"},"encoding":{"text":{"field":"t"}}}
 ]},
{"width":251,"height":193,
 "encoding":{
  "x":{"field":"w","type":"quantitative","scale":{"domain":[-1.24,59.24],"nice":false,"zero":false},"axis":{"values":[0,10,20,30,40,50],"title":null,"labelFontSize":9,"tickSize":5,"labelPadding":9}},
  "y":{"field":"v","type":"quantitative","scale":{"type":"log","domain":[1.13,1837000],"nice":false},"axis":null}},
 "layer":[
  {"data":{"name":"d"},"transform":[{"filter":"datum.p=='C' && indexof(['blue','green','red','cyan','magenta'], datum.s) < 0"}],"mark":{"type":"line","interpolate":"monotone","color":"#a3a3a3","strokeWidth":1},"encoding":{"detail":{"field":"s"}}},
  {"data":{"name":"d"},"transform":[{"filter":"datum.p=='C' && indexof(['blue','green','red','cyan','magenta'], datum.s) >= 0"}],"mark":{"type":"line","interpolate":"monotone","strokeWidth":2.5},"encoding":{"color":{"field":"s","type":"nominal","scale":{"domain":["magenta","cyan","red","green","blue"],"range":["#FF00FF","#00FFFF","#FF0000","#00FF00","#0000FF"]},"legend":null}}},
  {"data":{"name":"lab"},"transform":[{"filter":"datum.p=='C'"}],"mark":{"type":"text","fontSize":13,"color":"#0000FF","baseline":"middle"},"encoding":{"text":{"field":"t"}}}
 ]}
]
}
